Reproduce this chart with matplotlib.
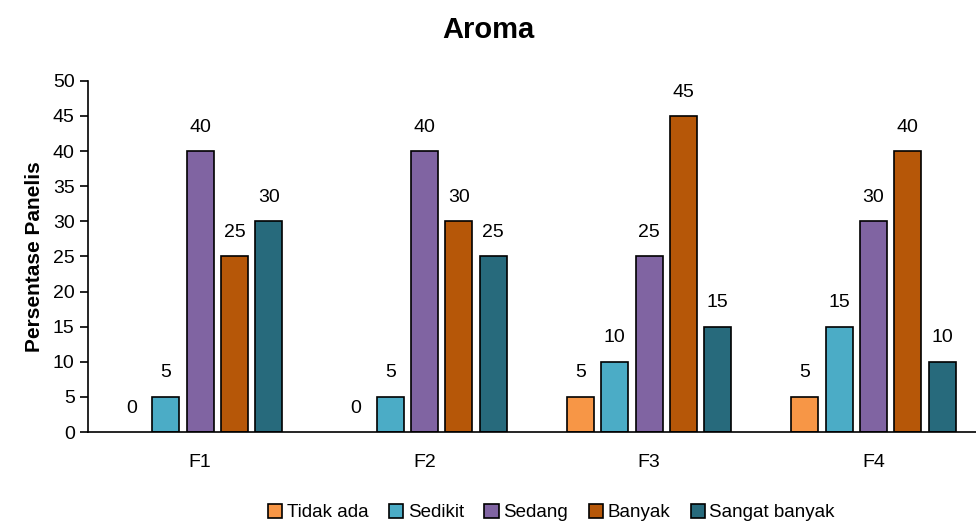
import numpy as np
import matplotlib.pyplot as plt

plt.rcParams['font.family'] = ['Liberation Sans Narrow', 'Liberation Sans', 'DejaVu Sans']

groups = ['F1', 'F2', 'F3', 'F4']
series = ['Tidak ada', 'Sedikit', 'Sedang', 'Banyak', 'Sangat banyak']
tidak_ada = [0, 0, 5, 5]
sedikit = [5, 5, 10, 15]
sedang = [40, 40, 25, 30]
banyak = [25, 30, 45, 40]
sangat_banyak = [30, 25, 15, 10]
values = [tidak_ada, sedikit, sedang, banyak, sangat_banyak]
colors = ['#F79646', '#4BACC6', '#8064A2', '#B65708', '#276A7C']

fig = plt.figure(figsize=(9.76, 5.25), dpi=100)
# axes runs a little past the right edge, as in the original
ax = fig.add_axes([0.090, 0.177, 0.920, 0.669])

x = np.arange(len(groups))
width = 0.12
step = 0.153
for i, (name, vals, c) in enumerate(zip(series, values, colors)):
    pos = x + (i - 2) * step
    lw = [1.2 if v > 0 else 0 for v in vals]
    bars = ax.bar(pos, vals, width, color=c, edgecolor='black', linewidth=lw, label=name)
    for b, v in zip(bars, vals):
        ax.text(b.get_x() + b.get_width() / 2, v + 2.2, str(v),
                ha='center', va='bottom', fontsize=14)

ax.set_xlim(-0.5, 3.5)
ax.set_ylim(0, 50)
ax.set_yticks(range(0, 51, 5))
ax.set_xticks(x)
ax.set_xticklabels(groups)
ax.tick_params(axis='x', length=0, labelsize=14, pad=16)
ax.tick_params(axis='y', labelsize=14, length=6, width=1.2)
ax.spines['top'].set_visible(False)
ax.spines['right'].set_visible(False)
ax.spines['left'].set_linewidth(1.2)
ax.spines['bottom'].set_linewidth(1.2)
ax.set_ylabel('Persentase Panelis', fontsize=15, fontweight='bold', labelpad=6)
fig.suptitle('Aroma', fontsize=21, fontweight='bold', y=0.97)

leg = fig.legend(loc='lower center', ncol=5, frameon=False, fontsize=13.5,
                 bbox_to_anchor=(0.565, -0.025), handlelength=0.75, handleheight=0.75,
                 handletextpad=0.25, columnspacing=1.1)
for h in leg.legend_handles:
    h.set_edgecolor('black')
    h.set_linewidth(1.2)

fig.savefig('out.png', dpi=100)
